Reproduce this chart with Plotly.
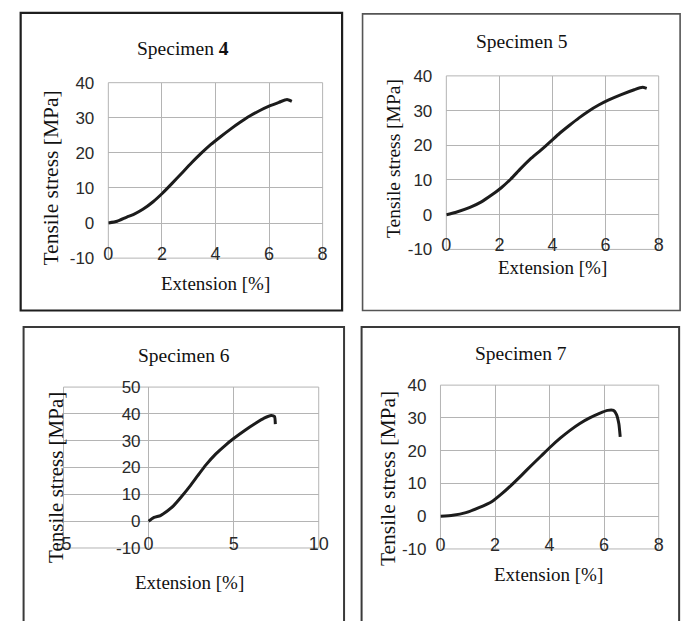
import plotly.graph_objects as go

W, H = 694, 621

# ---------------- data ----------------
s4_ext = [0, 0.33, 0.69, 0.93, 1.29, 1.66, 2.02, 2.38, 2.74, 3.10, 3.47, 3.83, 4.19, 4.55, 4.92, 5.28, 5.64, 6.00, 6.37, 6.67, 6.85]
s4_stress = [0, 0.5, 1.7, 2.4, 3.9, 6.0, 8.5, 11.3, 14.2, 17.1, 19.9, 22.4, 24.6, 26.7, 28.7, 30.5, 32.0, 33.3, 34.4, 35.2, 34.7]

s5_ext = [0, 0.34, 0.89, 1.32, 1.69, 2.06, 2.43, 2.79, 3.16, 3.53, 3.90, 4.26, 4.63, 5.00, 5.37, 5.74, 6.10, 6.59, 7.08, 7.39, 7.55]
s5_stress = [0, 0.65, 2.1, 3.7, 5.6, 7.7, 10.3, 13.2, 16.0, 18.4, 20.9, 23.4, 25.7, 27.9, 29.9, 31.6, 33.0, 34.6, 36.0, 36.7, 36.4]

s6_ext = [0, 0.32, 0.70, 1.08, 1.46, 1.94, 2.41, 2.89, 3.37, 3.94, 4.51, 5.00, 5.65, 6.22, 6.79, 7.20, 7.40, 7.45]
s6_stress = [0, 1.4, 2.1, 3.7, 5.7, 9.2, 12.9, 17.0, 21.0, 25.0, 28.3, 30.8, 33.8, 36.2, 38.4, 39.4, 39.0, 36.2]

s7_ext = [0, 0.45, 0.93, 1.41, 1.89, 2.24, 2.60, 2.96, 3.32, 3.68, 4.04, 4.39, 4.75, 5.11, 5.47, 5.83, 6.13, 6.34, 6.45, 6.54, 6.59]
s7_stress = [0, 0.3, 1.1, 2.6, 4.5, 6.8, 9.5, 12.4, 15.4, 18.3, 21.2, 23.8, 26.2, 28.3, 30.0, 31.4, 32.3, 32.3, 31.1, 28.2, 24.2]

titles = ["Specimen <b>4</b>", "Specimen 5", "Specimen 6", "Specimen 7"]
x_title = "Extension [%]"
y_title = "Tensile stress [MPa]"

x_ticks_a = [0, 2, 4, 6, 8]
x_ticks_b = [-5, 0, 5, 10]
y_ticks_a = [-10, 0, 10, 20, 30, 40]
y_ticks_b = [-10, 0, 10, 20, 30, 40, 50]

# ---------------- layout helpers ----------------
def fx(px):
    return px / W

def fy(py):
    return 1 - py / H

SERIF = "Liberation Serif, Times New Roman, serif"
SANS = "Liberation Sans, Arial, sans-serif"
GRID = "#b4b4b4"

panels = [
    dict(ext=s4_ext, st=s4_stress, xd=(103, 323), yd=(76, 257), xr=[0, 8], yr=[-10, 40],
         xt=x_ticks_a, yt=y_ticks_a, title=titles[0], tpos=(180, 41), xtpos=(213, 283),
         ytpos=(44, 174), ysz=21.5, box=(13, 4, 343, 311), bcol="#1e1e1e", bw=2.2),
    dict(ext=s5_ext, st=s5_stress, xd=(450, 668), yd=(69, 248), xr=[0, 8], yr=[-10, 40],
         xt=x_ticks_a, yt=y_ticks_a, title=titles[1], tpos=(528, 34), xtpos=(559, 267),
         ytpos=(396, 154), ysz=19.5, box=(364, 5, 690, 311), bcol="#555555", bw=1.6),
    dict(ext=s6_ext, st=s6_stress, xd=(57, 319), yd=(390, 556), xr=[-5, 10], yr=[-10, 50],
         xt=x_ticks_b, yt=y_ticks_b, title=titles[2], tpos=(181, 357), xtpos=(186, 592),
         ytpos=(49, 483), ysz=21, box=(16, 328, 345, 640), bcol="#3a3a3a", bw=2),
    dict(ext=s7_ext, st=s7_stress, xd=(444, 668), yd=(388, 557), xr=[0, 8], yr=[-10, 40],
         xt=x_ticks_a, yt=y_ticks_a, title=titles[3], tpos=(527, 355), xtpos=(555, 583),
         ytpos=(390, 484), ysz=21.5, box=(363, 328, 689, 640), bcol="#3a3a3a", bw=2),
]

fig = go.Figure()
annotations = []
shapes = []
layout = {}

for i, p in enumerate(panels, start=1):
    sfx = "" if i == 1 else str(i)
    xa, ya = "x" + sfx, "y" + sfx
    fig.add_trace(go.Scatter(
        x=p["ext"], y=p["st"], mode="lines", xaxis=xa, yaxis=ya,
        line=dict(color="#1c1c1c", width=3, shape="spline", smoothing=0.5),
        showlegend=False, hoverinfo="skip"))

    xaxis = dict(
        domain=[fx(p["xd"][0]), fx(p["xd"][1])], range=p["xr"], anchor=ya,
        tickvals=p["xt"], ticktext=[str(v) for v in p["xt"]],
        showgrid=True, gridcolor=GRID, gridwidth=1, zeroline=False, showline=False,
        ticks="", tickfont=dict(family=SANS, size=18, color="#2a2a2a"),
        ticklabelstandoff=-17, fixedrange=True)
    yaxis = dict(
        domain=[fy(p["yd"][1]), fy(p["yd"][0])], range=p["yr"], anchor=xa,
        tickvals=p["yt"], ticktext=[str(v) for v in p["yt"]],
        showgrid=True, gridcolor=GRID, gridwidth=1, zeroline=False, showline=False,
        ticks="", tickfont=dict(family=SANS, size=17, color="#2a2a2a"),
        ticklabelstandoff=13, fixedrange=True)
    if i == 3:
        # vertical axis crosses at x = 0
        x0px, x1px = p["xd"]
        cross = x0px + (0 - p["xr"][0]) / (p["xr"][1] - p["xr"][0]) * (x1px - x0px)
        yaxis.update(anchor="free", position=fx(cross), ticklabelstandoff=8)
    layout["xaxis" + sfx] = xaxis
    layout["yaxis" + sfx] = yaxis

    # plot-area frame
    shapes.append(dict(type="rect", xref=xa + " domain", yref=ya + " domain",
                       x0=0, x1=1, y0=0, y1=1, line=dict(color=GRID, width=1), layer="below"))
    # outer panel border
    bx0, by0, bx1, by1 = p["box"]
    shapes.append(dict(type="rect", xref="paper", yref="paper",
                       x0=fx(bx0), x1=fx(bx1), y0=fy(by1), y1=fy(by0),
                       line=dict(color=p["bcol"], width=p["bw"])))

    annotations.append(dict(text=p["title"], xref="paper", yref="paper",
                            x=fx(p["tpos"][0]), y=fy(p["tpos"][1]), showarrow=False,
                            xanchor="center", yanchor="middle",
                            font=dict(family=SERIF, size=19.5, color="#111111")))
    annotations.append(dict(text=x_title, xref="paper", yref="paper",
                            x=fx(p["xtpos"][0]), y=fy(p["xtpos"][1]), showarrow=False,
                            xanchor="center", yanchor="middle",
                            font=dict(family=SERIF, size=19, color="#111111")))
    annotations.append(dict(text=y_title, xref="paper", yref="paper",
                            x=fx(p["ytpos"][0]), y=fy(p["ytpos"][1]), showarrow=False,
                            textangle=-90, xanchor="center", yanchor="middle",
                            font=dict(family=SERIF, size=p["ysz"], color="#111111")))

fig.update_layout(
    width=W, height=H, margin=dict(l=0, r=0, t=0, b=0),
    paper_bgcolor="white", plot_bgcolor="white",
    annotations=annotations, shapes=shapes, **layout)

fig.write_html("out.html")
